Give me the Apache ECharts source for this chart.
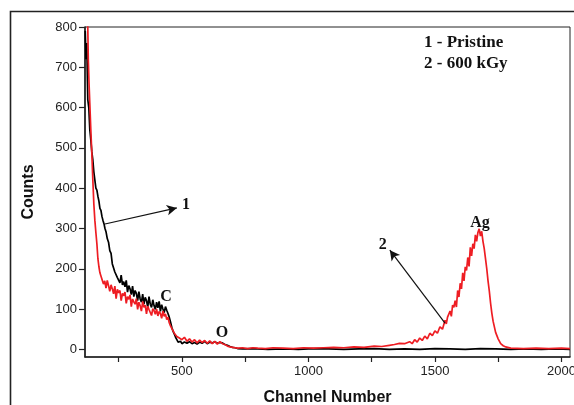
<!DOCTYPE html>
<html>
<head>
<meta charset="utf-8">
<script src="https://cdn.jsdelivr.net/npm/echarts@6/dist/echarts.min.js"></script>
<style>
html,body{margin:0;padding:0;background:#fff;}
#chart{width:574px;height:405px;}
</style>
</head>
<body>
<div id="chart"></div>
<script>
// ---- Data ----
var pristineChannel = [118,121,124,128,132,136,140,144,148,152,156,160,164,168,172,176,180,184,188,192,196,200,205,210,215,220,225,230,235,240,245,250,255,260,265,270,275,280,285,290,295,300,305,310,315,320,325,330,335,340,345,350,355,360,365,370,375,380,385,390,395,400,405,410,415,420,425,430,435,440,445,450,455,460,465,470,475,480,485,490,495,500,510,520,530,540,550,560,570,580,590,600,610,620,630,640,650,660,670,680,690,700,710,720,740,780,840,900,960,1020,1080,1140,1200,1260,1320,1380,1440,1500,1560,1620,1680,1740,1800,1860,1920,1980,2034];
var pristineCounts  = [790,720,760,620,600,545,520,490,470,440,420,400,395,380,368,350,345,330,320,312,300,292,275,266,245,238,212,210,192,192,178,182,165,184,160,168,155,171,142,158,150,136,157,131,146,139,121,143,125,117,137,112,129,121,105,131,112,104,123,108,99,117,103,119,94,111,100,91,106,97,89,80,68,55,45,38,30,24,18,16,20,14,18,15,19,14,17,13,18,15,20,14,18,16,19,15,17,16,12,10,7,5,4,2,1,2,0,1,0,2,1,0,1,2,0,1,0,2,1,0,2,1,0,1,0,1,0];

var irradiatedChannel = [120,124,128,130,133,136,140,144,148,152,156,160,164,168,172,176,180,185,190,195,200,205,210,215,220,225,230,235,240,245,250,255,260,265,270,275,280,285,290,295,300,305,310,315,320,325,330,335,340,345,350,355,360,365,370,375,380,385,390,395,400,405,410,415,420,425,430,435,440,445,450,455,460,465,470,475,480,485,490,500,510,520,530,540,550,560,570,580,590,600,610,620,630,640,650,660,670,680,690,700,710,720,740,760,780,800,830,860,900,940,980,1020,1060,1100,1140,1180,1220,1260,1290,1320,1340,1360,1380,1400,1410,1420,1430,1440,1450,1460,1470,1480,1490,1500,1510,1520,1530,1540,1545,1550,1555,1560,1565,1570,1575,1580,1585,1590,1595,1600,1605,1610,1615,1620,1625,1630,1635,1640,1645,1650,1655,1660,1665,1670,1675,1680,1685,1690,1695,1700,1705,1710,1715,1720,1725,1730,1740,1750,1760,1770,1780,1800,1850,1900,1950,2000,2034];
var irradiatedCounts  = [950,880,800,720,660,610,545,486,420,360,320,290,262,225,205,190,182,178,162,170,152,171,158,144,160,150,138,157,126,149,140,146,121,139,133,142,114,131,124,135,106,125,118,112,126,99,117,108,95,119,104,110,88,107,99,103,84,101,96,87,100,83,94,89,77,95,82,88,74,80,66,58,52,46,40,36,32,30,28,24,30,20,26,18,24,16,23,17,22,15,21,14,20,13,19,14,12,8,6,5,4,3,4,2,4,3,2,4,3,2,4,3,4,5,4,6,5,8,7,10,12,15,14,19,14,24,18,28,22,33,26,40,34,46,40,56,50,72,63,80,76,95,82,110,104,121,105,146,130,164,150,190,170,205,196,228,206,253,232,262,250,284,268,290,299,281,293,268,250,225,200,170,145,115,90,70,42,26,14,9,6,3,2,3,2,3,2];

var xTickValues  = [250,500,750,1000,1250,1500,1750,2000];
var xLabelValues = [500,1000,1500,2000];
var yTickValues  = [0,100,200,300,400,500,600,700,800];

// annotation texts and where they sit (data coordinates)
var peakLabels   = ['1','C','O','Ag','2'];
var peakLabelAt  = [[516,358],[437,130],[658,40],[1678,313],[1294,259]];
var legendLines  = ['1 - Pristine','2 - 600 kGy'];
var legendAt     = [[1457,762],[1457,708]];
var arrows       = [[[196,311],[480,351]],[[1540,65],[1322,246]]];

function zip(a,b){var r=[];for(var i=0;i<a.length;i++)r.push([a[i],b[i]]);return r;}

var chart = echarts.init(document.getElementById('chart'));

var markPts = [];
peakLabels.forEach(function(t,i){
  markPts.push({coord:peakLabelAt[i], symbolSize:0,
    label:{show:true, formatter:t, position:[0,0], align:'center', verticalAlign:'middle',
      fontFamily:'Liberation Serif', fontWeight:'bold', fontSize:16, color:'#111'}});
});
legendLines.forEach(function(t,i){
  markPts.push({coord:legendAt[i], symbolSize:0,
    label:{show:true, formatter:t, position:[0,0], align:'left', verticalAlign:'middle',
      fontFamily:'Liberation Serif', fontWeight:'bold', fontSize:17, color:'#111'}});
});

function plain(v){return String(v);}

var option = {
  animation:false,
  backgroundColor:'#fff',
  graphic:[{type:'rect', shape:{x:10.5,y:11.5,width:700,height:500},
    style:{fill:'none', stroke:'#222', lineWidth:1.6}, z:0}],
  grid:{left:85, top:27, width:485, height:330, outerBoundsMode:'none', containLabel:false,
    show:true, borderColor:'#222', borderWidth:1, backgroundColor:'transparent'},
  xAxis:{type:'value', min:117, max:2034,
    name:'Channel Number', nameLocation:'middle', nameGap:33,
    nameTextStyle:{fontFamily:'Liberation Sans', fontWeight:'bold', fontSize:16, color:'#111'},
    axisLine:{show:true, onZero:false, lineStyle:{color:'#222', width:1.6}},
    axisTick:{show:true, length:5, customValues:xTickValues, lineStyle:{color:'#222', width:1.2}},
    axisLabel:{customValues:xLabelValues, formatter:plain, margin:8, fontFamily:'Liberation Sans', fontSize:13, color:'#222'},
    splitLine:{show:false}},
  yAxis:{type:'value', min:-19, max:800,
    name:'Counts', nameLocation:'middle', nameGap:48, nameRotate:90,
    nameTextStyle:{fontFamily:'Liberation Sans', fontWeight:'bold', fontSize:16, color:'#111'},
    axisLine:{show:true, onZero:false, lineStyle:{color:'#222', width:1.6}},
    axisTick:{show:true, length:6, customValues:yTickValues, lineStyle:{color:'#222', width:1.2}},
    axisLabel:{customValues:yTickValues, formatter:plain, margin:8, fontFamily:'Liberation Sans', fontSize:13, color:'#222'},
    splitLine:{show:false}},
  series:[
    {type:'line', name:'Pristine', data:zip(pristineChannel,pristineCounts), showSymbol:false, symbol:'none',
      lineStyle:{color:'#000', width:1.7}, clip:true, z:2},
    {type:'line', name:'600 kGy', data:zip(irradiatedChannel,irradiatedCounts), showSymbol:false, symbol:'none',
      lineStyle:{color:'#ee1d23', width:1.7}, clip:true, z:3,
      markLine:{silent:true, symbol:['none','arrow'], symbolSize:[8,10], animation:false,
        lineStyle:{color:'#111', width:1.2, type:'solid'}, label:{show:false},
        data:arrows.map(function(a){return [{coord:a[0]},{coord:a[1]}];})},
      markPoint:{silent:true, animation:false, symbol:'circle', data:markPts}
    }
  ]
};
chart.setOption(option);
</script>
</body>
</html>
